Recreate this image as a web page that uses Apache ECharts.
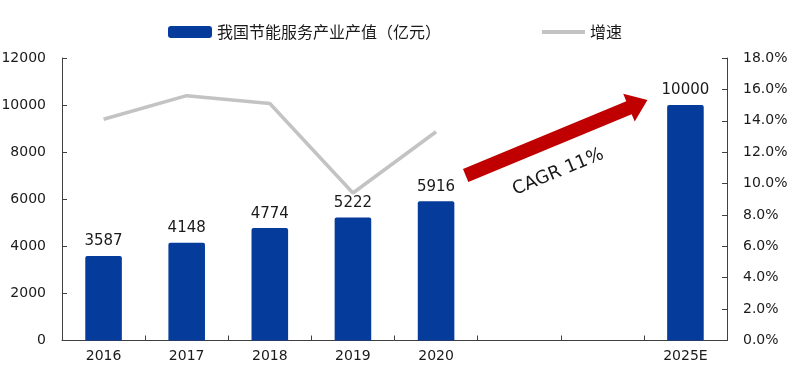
<!DOCTYPE html>
<html>
<head>
<meta charset="utf-8">
<script src="https://cdn.jsdelivr.net/npm/echarts@6/dist/echarts.min.js"></script>
<style>
  html, body { margin: 0; padding: 0; background: #fff; }
  #chart { width: 800px; height: 377px; }
</style>
</head>
<body>
<div id="chart"></div>
<script>
const years = ['2016', '2017', '2018', '2019', '2020', '', '', '2025E'];
const outputValue = [3587, 4148, 4774, 5222, 5916, '-', '-', 10000];
const growthRate = [0.141, 0.156, 0.151, 0.094, 0.133, '-', '-', '-'];
const cagrText = 'CAGR 11%';

const BLUE = '#053b9a';
const GREY = '#c3c3c3';
const RED = '#c00000';
const AXIS = '#404040';
const TEXT = '#1a1a1a';
const FONT = 'DejaVu Sans';

const chart = echarts.init(document.getElementById('chart'));

const axisCommon = {
  axisLine: { show: true, lineStyle: { color: AXIS, width: 1 } },
  axisTick: { show: true, inside: true, length: 5, lineStyle: { color: AXIS } },
  splitLine: { show: false },
};

chart.setOption({
  animation: false,
  textStyle: { fontFamily: FONT },
  grid: { left: 62, right: 73, top: 58, bottom: 36.5, containLabel: false, outerBoundsMode: 'none' },
  legend: [
    {
      left: 163, top: 19,
      data: ['我国节能服务产业产值（亿元）'],
      itemWidth: 44, itemHeight: 12, itemGap: 4,
      textStyle: { fontFamily: 'Noto Sans CJK SC', fontSize: 16, color: TEXT },
    },
    {
      left: 537, top: 19,
      data: [{ name: '增速', icon: 'rect' }],
      itemWidth: 43, itemHeight: 4,
      textStyle: { fontFamily: 'Noto Sans CJK SC', fontSize: 16, color: TEXT },
    },
  ],
  xAxis: {
    type: 'category',
    data: years,
    ...axisCommon,
    axisTick: { show: true, inside: true, length: 5, interval: 0, lineStyle: { color: AXIS } },
    axisLabel: { interval: 0, margin: 9, fontSize: 14, color: TEXT, fontFamily: FONT },
  },
  yAxis: [
    {
      type: 'value', min: 0, max: 12000, interval: 2000,
      ...axisCommon,
      axisLabel: { margin: 16, fontSize: 14, color: TEXT, fontFamily: FONT, formatter: (v) => String(v) },
    },
    {
      type: 'value', min: 0, max: 0.18, interval: 0.02,
      ...axisCommon,
      axisLabel: {
        margin: 16, fontSize: 14, color: TEXT, fontFamily: FONT,
        formatter: (v) => (v * 100).toFixed(1) + '%',
      },
    },
  ],
  series: [
    {
      name: '我国节能服务产业产值（亿元）',
      type: 'bar',
      data: outputValue,
      barWidth: '44%',
      itemStyle: { color: BLUE, borderRadius: [2, 2, 0, 0] },
      label: { show: true, position: 'top', distance: 7, fontSize: 15, color: TEXT, fontFamily: FONT },
    },
    {
      name: '增速',
      type: 'line',
      yAxisIndex: 1,
      data: growthRate,
      showSymbol: false,
      symbol: 'none',
      lineStyle: { color: GREY, width: 3.5 },
      itemStyle: { color: GREY },
    },
  ],
});

// CAGR arrow, anchored in data space (fractional category index, value)
function toPixel(idx, value) {
  const p0 = chart.convertToPixel({ xAxisIndex: 0, yAxisIndex: 0 }, [0, value]);
  const p1 = chart.convertToPixel({ xAxisIndex: 0, yAxisIndex: 0 }, [1, value]);
  return [p0[0] + idx * (p1[0] - p0[0]), p0[1]];
}
const arrowFrom = toPixel(4.356, 7010);
const arrowTo = toPixel(6.543, 10216);
const labelAt = toPixel(5.47, 7150);

const dx = arrowTo[0] - arrowFrom[0];
const dy = arrowTo[1] - arrowFrom[1];
const len = Math.sqrt(dx * dx + dy * dy);
const ux = dx / len, uy = dy / len;
const nx = -uy, ny = ux;
const shaftHalf = 7, headHalf = 15, headLen = 20;
const base = [arrowTo[0] - ux * headLen, arrowTo[1] - uy * headLen];
const pts = [
  [arrowFrom[0] + nx * shaftHalf, arrowFrom[1] + ny * shaftHalf],
  [base[0] + nx * shaftHalf, base[1] + ny * shaftHalf],
  [base[0] + nx * headHalf, base[1] + ny * headHalf],
  arrowTo,
  [base[0] - nx * headHalf, base[1] - ny * headHalf],
  [base[0] - nx * shaftHalf, base[1] - ny * shaftHalf],
  [arrowFrom[0] - nx * shaftHalf, arrowFrom[1] - ny * shaftHalf],
];
const angle = Math.atan2(-dy, dx);

chart.setOption({
  graphic: [
    {
      type: 'polygon',
      shape: { points: pts },
      style: { fill: RED },
      z: 10,
    },
    {
      type: 'text',
      x: labelAt[0], y: labelAt[1],
      rotation: angle,
      style: {
        text: cagrText,
        fontSize: 18,
        fontFamily: FONT,
        fill: TEXT,
        align: 'center',
        verticalAlign: 'middle',
      },
      z: 10,
    },
  ],
});
</script>
</body>
</html>
